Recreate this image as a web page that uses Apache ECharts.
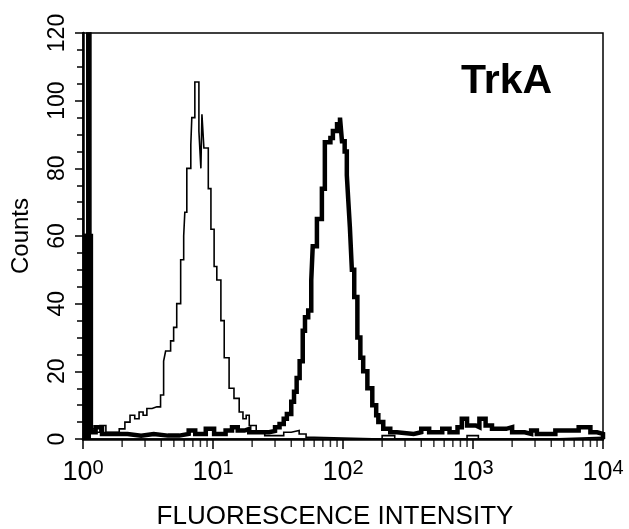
<!DOCTYPE html>
<html>
<head>
<meta charset="utf-8">
<script src="https://cdn.jsdelivr.net/npm/echarts@6/dist/echarts.min.js"></script>
<style>html,body{margin:0;padding:0;background:#fff}#c{width:629px;height:529px}</style>
</head>
<body>
<div id="c"></div>
<script>
// ---- data (histogram bin left edges and counts) ----
// first entry of each series = first (off-scale / piled-up) channel
var ctrlX = [1.055, 1.15, 1.25, 1.35, 1.5, 1.9, 2.1, 2.3, 2.5, 2.7, 2.9, 3.1, 3.4, 3.7, 3.95, 4.17, 4.32, 4.72, 4.98, 5.26, 5.64, 5.95, 6.07, 6.29, 6.75, 6.87, 7.25, 7.79, 8.07, 8.22, 8.51, 9.2, 9.64, 10.2, 10.7, 11.5, 12.2, 13.3, 14.5, 15.9, 17.0, 18.0, 19.0, 21.5, 25, 30, 35, 40, 46, 52, 60, 200, 250, 900, 1100, 4000, 10000];
var ctrlY = [300, 3, 2, 4, 2, 3, 5, 7, 6, 8, 7, 9, 9.5, 9.5, 13, 23, 26, 29, 33, 40, 53, 60, 67, 80, 87, 95, 105.5, 91, 80, 96, 86, 74, 62, 51, 47, 35, 24, 15, 12, 8, 6, 7, 4, 2, 1, 1, 2, 2.5, 1.5, 0.5, 0, 1, 0, 1, 0, 0.5, 0];

var trkX = [1.00, 1.15, 1.25, 1.4, 1.8, 2.2, 2.8, 3.5, 4.5, 5.5, 6.5, 7.3, 8.8, 10.2, 12.5, 14, 15.5, 17.5, 19, 22, 27, 30, 32.5, 35, 37, 40, 42, 44, 46.4, 49, 51, 54, 57, 58.5, 63, 68.8, 72.5, 80, 83.6, 90, 94.8, 98.2, 103, 107, 110, 113, 117, 122, 129, 136, 143, 154, 168, 180, 187, 204, 231, 260, 350, 400, 460, 580, 660, 760, 820, 900, 1050, 1120, 1250, 1400, 1800, 2000, 2500, 2800, 3100, 4300, 6500, 8000, 9000, 10000];
var trkY = [60, 2, 3.5, 1.5, 1.5, 1, 1.5, 1, 1, 1.5, 2.5, 1.5, 3, 1.5, 2.5, 3.5, 2.5, 3, 2, 2, 2.4, 3.5, 4.4, 6, 7.4, 11, 14, 18, 23, 32, 36, 38, 47, 57, 65, 74, 87.7, 89, 91, 93, 95, 88, 85, 78, 70, 62.5, 50, 42, 30, 24, 20, 15, 10, 7, 5, 3, 2, 1.5, 2, 3, 2, 3, 2, 3.5, 6, 4, 3.5, 6, 4, 3, 3.5, 2, 1.5, 2.5, 1.5, 2.5, 3.5, 2, 1.5, 0];

var xExponentLabels = ['0', '1', '2', '3', '4'];
var xMinorTickValues = [2,3,4,5,6,7,8,9,20,30,40,50,60,70,80,90,200,300,400,500,600,700,800,900,2000,3000,4000,5000,6000,7000,8000,9000];

function pairs(xs, ys){ var o=[]; for(var i=0;i<xs.length;i++) o.push([xs[i], ys[i]]); return o; }
function firstChannel(xs, ys){ return [[xs[0], ys[0]], [xs[1], ys[0]]]; }

var FONT = "'Liberation Sans', Arial, sans-serif";
var NUMFONT = "'Liberation Sans Narrow', 'Liberation Sans', Arial, sans-serif";

var chart = echarts.init(document.getElementById('c'), null, {renderer:'canvas'});
chart.setOption({
  animation: false,
  backgroundColor: '#fff',
  title: {
    text: 'TrkA', left: 456, top: 56,
    textStyle: {fontFamily: FONT, fontSize: 41, fontWeight: 'bold', color: '#000'}
  },
  grid: {left: 83, right: 26, top: 33, bottom: 90, outerBoundsMode: 'none', containLabel: false,
         show: true, borderColor: '#000', borderWidth: 1.5, backgroundColor: 'transparent'},
  xAxis: {
    type: 'log', logBase: 10, min: 1, max: 10000,
    axisLine: {show: true, lineStyle: {color: '#000', width: 2.5}},
    axisTick: {show: true, length: 10, lineStyle: {color: '#000', width: 1.5}},
    splitLine: {show: false},
    axisLabel: {
      margin: 19, color: '#000',
      formatter: function(v){ return '{b|10}{s|' + xExponentLabels[Math.round(Math.log10(v))] + '}'; },
      rich: {
        b: {fontFamily: NUMFONT, fontSize: 27, color: '#000', lineHeight: 28, verticalAlign: 'bottom'},
        s: {fontFamily: NUMFONT, fontSize: 20, color: '#000', lineHeight: 20, verticalAlign: 'top'}
      }
    },
    name: 'FLUORESCENCE INTENSITY', nameLocation: 'middle', nameGap: 65,
    nameTextStyle: {fontFamily: FONT, fontSize: 26, color: '#000', padding: [0, 16, 0, 0]}
  },
  yAxis: {
    type: 'value', min: 0, max: 120, interval: 20,
    axisLine: {show: true, lineStyle: {color: '#000', width: 2.5}},
    axisTick: {show: true, length: 8, lineStyle: {color: '#000', width: 1.5}},
    minorTick: {show: true, splitNumber: 4, length: 6, lineStyle: {color: '#000', width: 1.5}},
    splitLine: {show: false},
    axisLabel: {rotate: 90, margin: 14, fontFamily: NUMFONT, fontSize: 23, color: '#000'},
    name: 'Counts', nameLocation: 'middle', nameGap: 50, nameRotate: 90,
    nameTextStyle: {fontFamily: FONT, fontSize: 24, color: '#000'}
  },
  series: [
    {
      name: 'control', type: 'line', step: 'end', symbol: 'none', clip: true,
      data: pairs(ctrlX, ctrlY),
      lineStyle: {color: '#000', width: 1.6, join: 'miter'}, z: 3
    },
    {
      name: 'control first channel', type: 'line', symbol: 'none', clip: true,
      data: firstChannel(ctrlX, ctrlY),
      lineStyle: {color: '#000', width: 1.6}, areaStyle: {color: '#000', opacity: 1}, z: 3
    },
    {
      name: 'TrkA', type: 'line', step: 'end', symbol: 'none', clip: true,
      data: pairs(trkX, trkY),
      lineStyle: {color: '#000', width: 4.5, join: 'miter'}, z: 4
    },
    {
      name: 'TrkA first channel', type: 'line', symbol: 'none', clip: true,
      data: firstChannel(trkX, trkY),
      lineStyle: {color: '#000', width: 4.5}, areaStyle: {color: '#000', opacity: 1}, z: 4
    },
    {
      name: 'minorTicks', type: 'scatter', silent: true, clip: false,
      data: xMinorTickValues.map(function(v){ return [v, 0]; }),
      symbol: 'rect', symbolSize: [1.5, 7], symbolOffset: [0, 4.5],
      itemStyle: {color: '#000'}, z: 10
    }
  ]
});
</script>
</body>
</html>
